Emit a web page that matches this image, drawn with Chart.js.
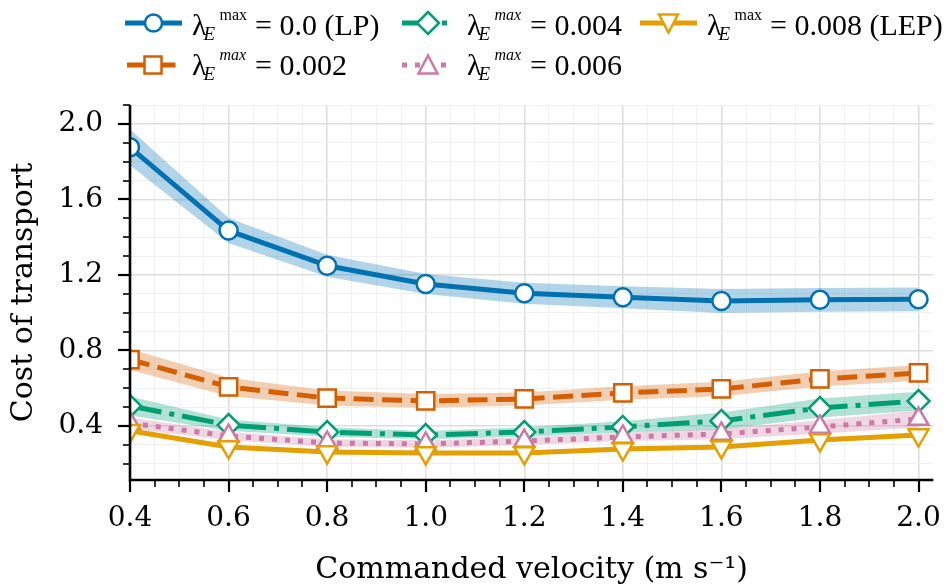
<!DOCTYPE html>
<html>
<head>
<meta charset="utf-8">
<script src="https://cdn.jsdelivr.net/npm/chart.js@4.4.1/dist/chart.umd.min.js"></script>
<style>
html,body{margin:0;padding:0;background:#fff;}
#wrap{position:relative;width:948px;height:587px;overflow:hidden;}
#c{position:absolute;left:0;top:0;}
.h{position:absolute;}
.t{position:absolute;font-family:"Liberation Serif","Times New Roman",serif;font-size:30px;line-height:30px;color:#000;white-space:nowrap;}
.ss{position:relative;display:inline-block;width:44px;height:0;margin-left:-3px;}
.ss .sp{position:absolute;left:16px;top:-28.4px;font-size:16px;line-height:16px;}
.ss .sb{position:absolute;left:0px;top:-10.9px;font-size:19px;line-height:19px;font-style:italic;}
.it{font-style:italic;}
</style>
</head>
<body>
<div id="wrap">
<canvas id="c" width="948" height="587"></canvas>
<div id="legend"></div>
</div>
<script>
// ---------------- data ----------------
const velocities = [0.4, 0.6, 0.8, 1.0, 1.2, 1.4, 1.6, 1.8, 2.0];
const cotLP  = [1.876, 1.435, 1.249, 1.152, 1.103, 1.082, 1.062, 1.068, 1.071];
const sdLP   = [0.095, 0.066, 0.058, 0.053, 0.055, 0.058, 0.063, 0.063, 0.063];
const cot002 = [0.752, 0.607, 0.548, 0.533, 0.543, 0.575, 0.596, 0.649, 0.681];
const sd002  = [0.056, 0.048, 0.040, 0.036, 0.035, 0.036, 0.038, 0.040, 0.042];
const cot004 = [0.506, 0.405, 0.368, 0.352, 0.368, 0.395, 0.427, 0.495, 0.532];
const sd004  = [0.050, 0.030, 0.025, 0.022, 0.025, 0.030, 0.045, 0.050, 0.050];
const cot006 = [0.415, 0.347, 0.310, 0.305, 0.320, 0.342, 0.358, 0.395, 0.437];
const sd006  = [0.030, 0.022, 0.020, 0.020, 0.020, 0.022, 0.028, 0.035, 0.045];
const cot008 = [0.375, 0.289, 0.262, 0.257, 0.257, 0.278, 0.289, 0.326, 0.352];
const sd008  = [0.012, 0.010, 0.010, 0.010, 0.010, 0.010, 0.010, 0.012, 0.012];
const seriesLabels = ["λE max = 0.0 (LP)", "λE max = 0.002", "λE max = 0.004", "λE max = 0.006", "λE max = 0.008 (LEP)"];
const legendValues = ["0.0 (LP)", "0.002", "0.004", "0.006", "0.008 (LEP)"];
const xMajorTicks = [0.4, 0.6, 0.8, 1.0, 1.2, 1.4, 1.6, 1.8, 2.0];
const yMajorTicks = [0.4, 0.8, 1.2, 1.6, 2.0];
const xTitle = "Commanded velocity (m s\u207B\u00B9)";
const yTitle = "Cost of transport";

// ---------------- styles ----------------
const series = [
  {mean: cotLP,  sd: sdLP,  color: '#0072B2', band: 'rgba(0,114,178,0.30)',  dash: [],           marker: 'circle',   r: 9,  rot: 0},
  {mean: cot002, sd: sd002, color: '#D55E00', band: 'rgba(213,94,0,0.30)',   dash: [20, 8.5],    marker: 'rect',     r: 12.2, rot: 0},
  {mean: cot004, sd: sd004, color: '#009E73', band: 'rgba(0,158,115,0.30)',  dash: [32, 8, 5, 8], marker: 'rectRot', r: 11, rot: 0},
  {mean: cot006, sd: sd006, color: '#CC79A7', band: 'rgba(204,121,167,0.30)', dash: [5, 8],      marker: 'triangle', r: 11.5, rot: 0},
  {mean: cot008, sd: sd008, color: '#E69F00', band: 'rgba(230,159,0,0.30)',  dash: [],           marker: 'triangle', r: 11.5, rot: 180}
];

const isMajor = (v, arr) => arr.some(m => Math.abs(m - v) < 1e-6);
const xAllTicks = []; for (let i = 0; i <= 32; i++) xAllTicks.push(Math.round((0.4 + i * 0.05) * 100) / 100);
const yAllTicks = []; for (let i = 2; i <= 21; i++) yAllTicks.push(i / 10);

const datasets = [];
series.forEach((s) => {
  datasets.push({data: velocities.map((x, i) => ({x, y: s.mean[i] + s.sd[i]})), borderWidth: 0, pointRadius: 0, fill: false, order: 100, clip: 0});
  datasets.push({data: velocities.map((x, i) => ({x, y: s.mean[i] - s.sd[i]})), borderWidth: 0, pointRadius: 0, fill: '-1', backgroundColor: s.band, order: 100, clip: 0});
});
series.forEach((s, k) => {
  datasets.push({
    label: seriesLabels[k],
    data: velocities.map((x, i) => ({x, y: s.mean[i]})),
    borderColor: s.color, borderWidth: 5, borderDash: s.dash, borderCapStyle: 'butt', borderJoinStyle: 'round',
    pointStyle: s.marker, pointRadius: s.r, pointRotation: s.rot,
    pointBorderColor: s.color, pointBackgroundColor: '#ffffff', pointBorderWidth: 2.5,
    fill: false, tension: 0, order: 10 - k, clip: 0
  });
});

const mplTicks = {
  id: 'mplTicks',
  afterDraw(chart) {
    const ctx = chart.ctx, xs = chart.scales.x, ys = chart.scales.y, ca = chart.chartArea;
    ctx.save();
    ctx.strokeStyle = '#000'; ctx.lineCap = 'butt';
    xAllTicks.forEach(v => {
      const maj = isMajor(v, xMajorTicks);
      const px = Math.round(xs.getPixelForValue(v));
      ctx.lineWidth = maj ? 2.2 : 1.6;
      ctx.beginPath(); ctx.moveTo(px, ca.bottom); ctx.lineTo(px, ca.bottom + (maj ? 12 : 7)); ctx.stroke();
    });
    yAllTicks.forEach(v => {
      const maj = isMajor(v, yMajorTicks);
      const py = Math.round(ys.getPixelForValue(v));
      ctx.lineWidth = maj ? 2.2 : 1.6;
      ctx.beginPath(); ctx.moveTo(ca.left, py); ctx.lineTo(ca.left - (maj ? 12 : 7), py); ctx.stroke();
    });
    ctx.lineWidth = 2.6;
    ctx.beginPath();
    ctx.moveTo(ca.left, ca.top); ctx.lineTo(ca.left, ca.bottom + 1.3);
    ctx.moveTo(ca.left - 1.3, ca.bottom); ctx.lineTo(ca.right, ca.bottom);
    ctx.stroke();
    ctx.restore();
  }
};

const gridColor = (arr) => (c) => (c.tick && isMajor(c.tick.value, arr)) ? '#dddddd' : '#f0f0f0';
const gridWidth = (arr) => (c) => (c.tick && isMajor(c.tick.value, arr)) ? 1.5 : 1;

new Chart(document.getElementById('c'), {
  type: 'line',
  data: {datasets},
  plugins: [mplTicks],
  options: {
    responsive: false, animation: false, devicePixelRatio: 1,
    layout: {padding: {top: 105, right: 11, left: 0, bottom: 0}},
    plugins: {legend: {display: false}, tooltip: {enabled: false}, filler: {drawTime: 'beforeDatasetsDraw'}},
    scales: {
      x: {
        type: 'linear', min: 0.4, max: 2.03,
        afterBuildTicks: (s) => { s.ticks = xAllTicks.map(v => ({value: v})); },
        afterFit: (s) => { s.height = 107; s.paddingLeft = 0; s.paddingRight = 0; },
        grid: {color: gridColor(xMajorTicks), lineWidth: gridWidth(xMajorTicks), drawTicks: true, tickLength: 12, tickColor: 'rgba(0,0,0,0)'},
        border: {display: false},
        ticks: {autoSkip: false, maxRotation: 0, padding: 10, color: '#000', font: {family: 'DejaVu Serif', size: 28},
          callback: (v) => isMajor(v, xMajorTicks) ? Number(v).toFixed(1) : ''},
        title: {display: true, text: xTitle, color: '#000', font: {family: 'DejaVu Serif', size: 30}, padding: {top: 0, bottom: -1}}
      },
      y: {
        type: 'linear', min: 0.114, max: 2.1,
        afterBuildTicks: (s) => { s.ticks = yAllTicks.map(v => ({value: v})); },
        afterFit: (s) => { s.width = 130; s.paddingTop = 0; s.paddingBottom = 0; },
        grid: {color: gridColor(yMajorTicks), lineWidth: gridWidth(yMajorTicks), drawTicks: true, tickLength: 12, tickColor: 'rgba(0,0,0,0)'},
        border: {display: false},
        ticks: {autoSkip: false, padding: 15, color: '#000', font: {family: 'DejaVu Serif', size: 28},
          callback: (v) => isMajor(v, yMajorTicks) ? Number(v).toFixed(1) : ''},
        title: {display: true, text: yTitle, color: '#000', font: {family: 'DejaVu Serif', size: 30}, padding: {top: 6, bottom: 0}}
      }
    }
  }
});

// ---------------- legend (HTML) ----------------
const legendEntries = [
  {k: 0, x0: 125, x1: 182, y: 22.7, tx: 192, ty: 10, supItalic: false},
  {k: 1, x0: 127, x1: 179, y: 65,   tx: 192, ty: 50, supItalic: true},
  {k: 2, x0: 402, x1: 454, y: 22.7, tx: 467, ty: 10, supItalic: true},
  {k: 3, x0: 402, x1: 454, y: 65,   tx: 467, ty: 50, supItalic: true},
  {k: 4, x0: 640, x1: 697, y: 22.7, tx: 707, ty: 10, supItalic: false}
];
function markerSvg(s, cx, cy) {
  const a = `stroke="${s.color}" stroke-width="2.5" fill="#fff"`;
  if (s.marker === 'circle') return `<circle cx="${cx}" cy="${cy}" r="8.5" ${a}/>`;
  if (s.marker === 'rect') return `<rect x="${cx-8.5}" y="${cy-8.5}" width="17" height="17" ${a}/>`;
  if (s.marker === 'rectRot') return `<polygon points="${cx},${cy-11} ${cx+11},${cy} ${cx},${cy+11} ${cx-11},${cy}" ${a}/>`;
  if (s.rot === 180) return `<polygon points="${cx-9.5},${cy-8.5} ${cx+9.5},${cy-8.5} ${cx},${cy+9.5}" ${a}/>`;
  return `<polygon points="${cx},${cy-9.5} ${cx+9.5},${cy+8.5} ${cx-9.5},${cy+8.5}" ${a}/>`;
}
const leg = document.getElementById('legend');
let html = '';
legendEntries.forEach(e => {
  const s = series[e.k];
  const w = e.x1 - e.x0 + 4;
  const cx = 2 + (e.x1 - e.x0) / 2;
  html += `<svg class="h" style="left:${e.x0 - 2}px;top:${e.y - 18}px" width="${w}" height="36">` +
    `<line x1="2" y1="18" x2="${w - 2}" y2="18" stroke="${s.color}" stroke-width="5" stroke-dasharray="${s.dash.length ? s.dash.join(' ') : 'none'}"/>` +
    markerSvg(s, cx, 18) + `</svg>`;
  html += `<div class="t" style="left:${e.tx}px;top:${e.ty}px">λ<span class="ss"><span class="sp${e.supItalic ? ' it' : ''}">max</span><span class="sb">E</span></span> = ${legendValues[e.k]}</div>`;
});
leg.innerHTML = html;
</script>
</body>
</html>
